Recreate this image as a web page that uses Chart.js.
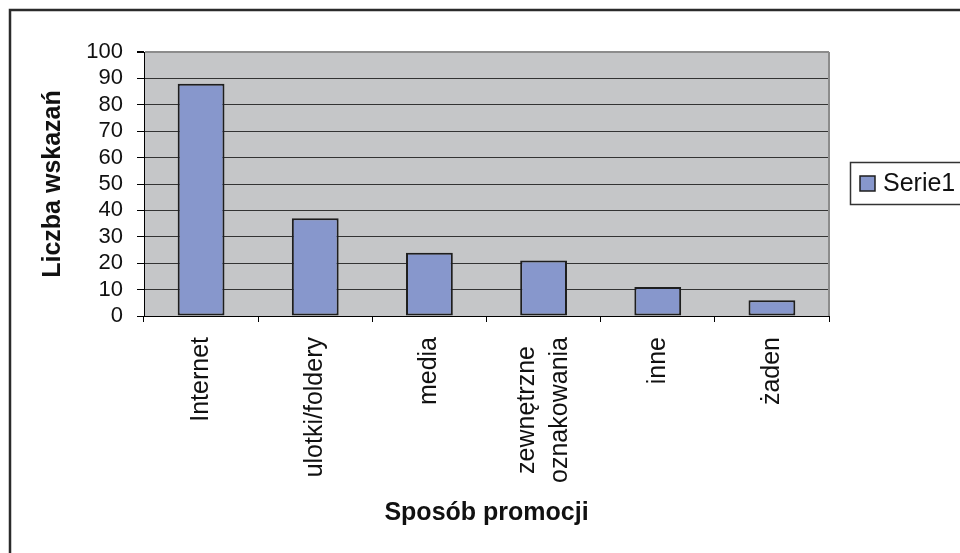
<!DOCTYPE html>
<html lang="pl">
<head>
<meta charset="utf-8">
<title>Sposób promocji</title>
<script src="https://cdn.jsdelivr.net/npm/chart.js@4/dist/chart.umd.min.js"></script>
<style>
  html, body { margin: 0; padding: 0; background: #fff; overflow: hidden; }
  canvas { display: block; }
</style>
</head>
<body>
<canvas id="chart" width="960" height="553"></canvas>
<script>
// Liczba wskazań dla każdego sposobu promocji
const categories = ['Internet', 'ulotki/foldery', 'media', ['zewnętrzne', 'oznakowania'], 'inne', 'żaden'];
const counts = [88, 37, 24, 21, 11, 6];
const seriesName = 'Serie1';
const xTitle = 'Sposób promocji';
const yTitle = 'Liczba wskazań';
const yMin = 0;
const yMax = 100;
const yStep = 10;

const FONT = '"Liberation Sans", Arial, sans-serif';
const PLOT_BG = '#c5c6c8';
const BAR_FILL = '#8797cc';
const BAR_EDGE = '#1e1e1e';

// Plot background, plot frame, outer frame, category labels and legend box
const decorations = {
  id: 'decorations',
  beforeDraw(chart) {
    const { ctx, chartArea: a } = chart;
    ctx.save();
    ctx.fillStyle = PLOT_BG;
    ctx.fillRect(a.left, a.top, a.right - a.left, a.bottom - a.top);
    ctx.restore();
  },
  afterDraw(chart) {
    const { ctx, chartArea: a } = chart;
    const xs = chart.scales.x;
    ctx.save();

    // grey right edge of the plot area
    ctx.strokeStyle = '#8c8c8c';
    ctx.lineWidth = 2;
    ctx.beginPath();
    ctx.moveTo(a.right, a.top);
    ctx.lineTo(a.right, a.bottom);
    ctx.stroke();

    // outer frame (open at right and bottom)
    ctx.strokeStyle = '#2b2b2b';
    ctx.lineWidth = 2.5;
    ctx.beginPath();
    ctx.moveTo(10, chart.height);
    ctx.lineTo(10, 10);
    ctx.lineTo(chart.width, 10);
    ctx.stroke();

    // rotated category labels, multi-line blocks centred along the text
    ctx.font = '25px ' + FONT;
    ctx.fillStyle = '#111';
    categories.forEach((lab, i) => {
      const lines = Array.isArray(lab) ? lab : [lab];
      const w = Math.max(...lines.map(l => ctx.measureText(l).width));
      const x = xs.getPixelForValue(i);
      ctx.save();
      ctx.translate(x, a.bottom + 21);
      ctx.rotate(-Math.PI / 2);
      ctx.textAlign = 'center';
      ctx.textBaseline = 'middle';
      lines.forEach((l, j) => {
        ctx.fillText(l, -w / 2, (j - (lines.length - 1) / 2) * 33);
      });
      ctx.restore();
    });

    // legend
    const ds = chart.data.datasets[0];
    ctx.fillStyle = '#fff';
    ctx.fillRect(850, 162, 130, 42);
    ctx.strokeStyle = '#333';
    ctx.lineWidth = 1.5;
    ctx.strokeRect(850.5, 162.5, 130, 42);
    ctx.fillStyle = ds.backgroundColor;
    ctx.fillRect(860, 176, 15, 15);
    ctx.strokeStyle = BAR_EDGE;
    ctx.lineWidth = 1.5;
    ctx.strokeRect(860, 176, 15, 15);
    ctx.fillStyle = '#111';
    ctx.font = '25px ' + FONT;
    ctx.textAlign = 'left';
    ctx.textBaseline = 'middle';
    ctx.fillText(ds.label, 883, 184);

    ctx.restore();
  }
};

new Chart(document.getElementById('chart'), {
  type: 'bar',
  data: {
    labels: categories,
    datasets: [{
      label: seriesName,
      data: counts,
      backgroundColor: BAR_FILL,
      borderColor: BAR_EDGE,
      borderWidth: 2,
      borderSkipped: false,
      barPercentage: 0.41,
      categoryPercentage: 1
    }]
  },
  options: {
    responsive: false,
    animation: false,
    devicePixelRatio: 1,
    layout: { padding: { top: 52, right: 131, bottom: 0, left: 10 } },
    plugins: {
      legend: { display: false },
      tooltip: { enabled: false }
    },
    scales: {
      x: {
        offset: true,
        grid: {
          display: true,
          offset: true,
          drawOnChartArea: false,
          drawTicks: true,
          tickLength: 6,
          color: '#000',
          tickColor: '#000'
        },
        border: { display: true, color: '#000', width: 1 },
        ticks: { display: false },
        title: {
          display: true,
          text: xTitle,
          color: '#111',
          font: { family: FONT, size: 25, weight: 'bold' },
          padding: { top: 0, bottom: 25 }
        },
        afterFit(scale) { scale.height = 553 - 316; }
      },
      y: {
        min: yMin,
        max: yMax,
        ticks: {
          stepSize: yStep,
          autoSkip: false,
          color: '#111',
          padding: 14,
          font: { family: FONT, size: 22, lineHeight: 1 }
        },
        grid: {
          color: c => (c.tick && c.tick.value === yMax) ? '#8c8c8c' : '#333',
          lineWidth: c => (c.tick && c.tick.value === yMax) ? 2 : 1,
          tickColor: '#000',
          tickLength: 7,
          drawTicks: true
        },
        border: { display: true, color: '#000', width: 1 },
        title: {
          display: true,
          text: yTitle,
          color: '#111',
          font: { family: FONT, size: 25, weight: 'bold' },
          padding: { top: 28, bottom: 0 }
        },
        afterFit(scale) { scale.width = 134; }
      }
    }
  },
  plugins: [decorations]
});
</script>
</body>
</html>
